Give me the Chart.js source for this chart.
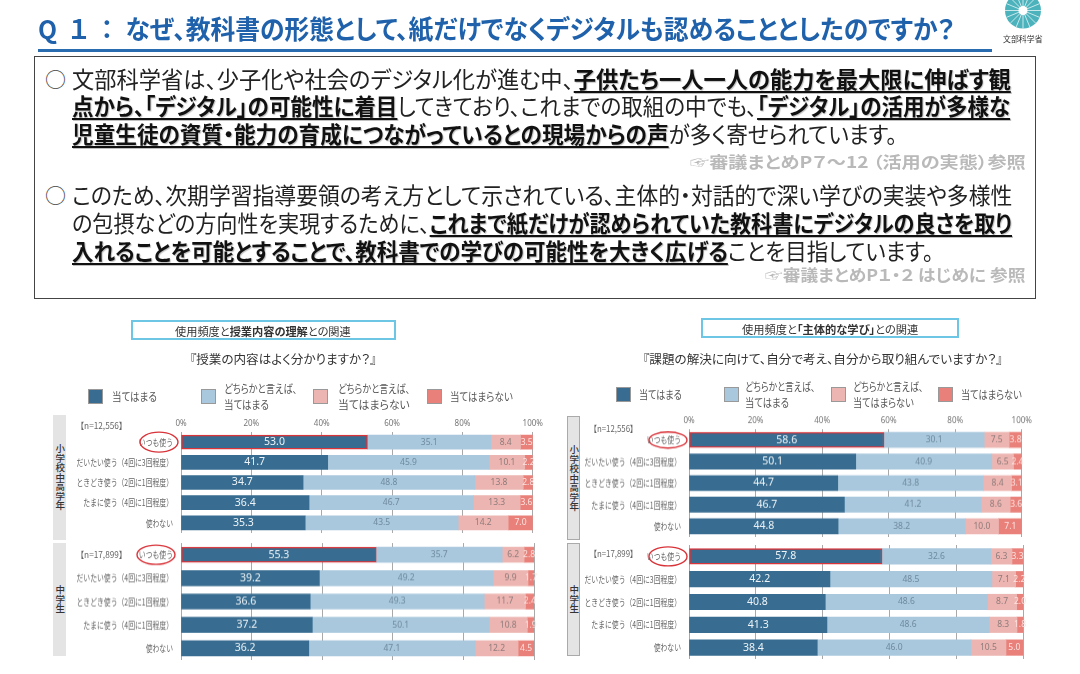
<!DOCTYPE html>
<html lang="ja">
<head>
<meta charset="utf-8">
<script src="https://cdn.jsdelivr.net/npm/chart.js@4"></script>
<style>
  html, body { margin: 0; padding: 0; background: #fff; }
  body { width: 1080px; height: 674px; position: relative; overflow: hidden; font-family: "Noto Sans CJK JP", "Noto Sans", sans-serif; color: #222; }
  .t { position: absolute; white-space: nowrap; transform-origin: left center; line-height: 1; font-feature-settings: "palt"; }
  .t b { font-weight: 700; }
  .u { text-decoration: underline; text-decoration-thickness: 2px; text-underline-offset: 3px; font-weight: 700; color: #111; text-shadow: 1px 1px 1px rgba(0,0,0,.25); }
  .box { position: absolute; box-sizing: border-box; }
  .sw { position: absolute; width: 15px; height: 15px; box-sizing: border-box; border: 1px solid #999; }
  .side { position: absolute; background: #e4e4e4; box-sizing: border-box; writing-mode: vertical-rl; font-size: 9.5px; font-weight: 500; color: #333; display: flex; align-items: center; justify-content: center; line-height: 1; }
  canvas { position: absolute; }
</style>
</head>
<body>
<script>
// usage rows shared by all four panels
const usageLabels = ['いつも使う', 'だいたい使う（4回に3回程度）', 'ときどき使う（2回に1回程度）', 'たまに使う（4回に1回程度）', '使わない'];
const seriesNames = ['当てはまる', 'どちらかと言えば、当てはまる', 'どちらかと言えば、当てはまらない', '当てはまらない'];
const seriesColors = ['#386d91', '#a9c8dd', '#edb5b1', '#e9817a'];
const labelColors = ['#eef4f8', '#6f8a9e', '#8d7b7b', '#fbe3e0'];
const percentTicks = ['0%', '20%', '40%', '60%', '80%', '100%'];

// 授業内容の理解 小学校中高学年
const lessonElemYes = [53.0, 41.7, 34.7, 36.4, 35.3];
const lessonElemRatherYes = [35.1, 45.9, 48.8, 46.7, 43.5];
const lessonElemRatherNo = [8.4, 10.1, 13.8, 13.3, 14.2];
const lessonElemNo = [3.5, 2.2, 2.8, 3.6, 7.0];
// 授業内容の理解 中学生
const lessonJuniorYes = [55.3, 39.2, 36.6, 37.2, 36.2];
const lessonJuniorRatherYes = [35.7, 49.2, 49.3, 50.1, 47.1];
const lessonJuniorRatherNo = [6.2, 9.9, 11.7, 10.8, 12.2];
const lessonJuniorNo = [2.8, 1.7, 2.4, 1.9, 4.5];
// 主体的な学び 小学校中高学年
const activeElemYes = [58.6, 50.1, 44.7, 46.7, 44.8];
const activeElemRatherYes = [30.1, 40.9, 43.8, 41.2, 38.2];
const activeElemRatherNo = [7.5, 6.5, 8.4, 8.6, 10.0];
const activeElemNo = [3.8, 2.4, 3.1, 3.6, 7.1];
// 主体的な学び 中学生
const activeJuniorYes = [57.8, 42.2, 40.8, 41.3, 38.4];
const activeJuniorRatherYes = [32.6, 48.5, 48.6, 48.6, 46.0];
const activeJuniorRatherNo = [6.3, 7.1, 8.7, 8.3, 10.5];
const activeJuniorNo = [3.3, 2.2, 2.0, 1.8, 5.0];

function text(html, x, y, size, opts) {
  opts = opts || {};
  const el = document.createElement('div');
  el.className = 't';
  el.innerHTML = html;
  el.style.left = x + 'px';
  el.style.top = (y - size / 2) + 'px';
  el.style.fontSize = size + 'px';
  if (opts.color) el.style.color = opts.color;
  if (opts.bold) el.style.fontWeight = 700;
  document.body.appendChild(el);
  // squeeze the line to the width it has in the slide
  if (opts.w) el.style.transform = 'scaleX(' + (opts.w / el.offsetWidth) + ')';
  return el;
}

function box(x, y, w, h, css) {
  const el = document.createElement('div');
  el.className = 'box';
  el.style.cssText = 'left:' + x + 'px;top:' + y + 'px;width:' + w + 'px;height:' + h + 'px;' + css;
  document.body.appendChild(el);
  return el;
}

// header
text('<span style="letter-spacing:13px">Q１：</span>なぜ、教科書の形態として、紙だけでなくデジタルも認めることとしたのですか？', 38, 28, 26, { color: '#1f62ab', bold: true, w: 917 });
box(38, 49, 954, 3, 'background:#2a6cb0;');
const logo = document.createElementNS('http://www.w3.org/2000/svg', 'svg');
logo.setAttribute('width', 50); logo.setAttribute('height', 34);
logo.style.cssText = 'position:absolute;left:1000px;top:0;';
let logoInner = '<circle cx="23" cy="10.5" r="18" fill="#4cb3bd"/>';
for (let a = 0; a < 16; a++) {
  const r = a * Math.PI / 8;
  logoInner += '<line x1="23" y1="10.5" x2="' + (23 + 18 * Math.cos(r)) + '" y2="' + (10.5 + 18 * Math.sin(r)) + '" stroke="#fff" stroke-width="0.7"/>';
}
logoInner += '<circle cx="23" cy="10.5" r="4.5" fill="#fff"/>';
logo.innerHTML = logoInner;
document.body.appendChild(logo);
text('文部科学省', 1003, 38, 8.5, { color: '#333', w: 40 });

// text box
box(34, 56, 1002, 243, 'border:1.5px solid #444;');
text('○', 45, 78, 21, { color: '#444' });
text('文部科学省は、少子化や社会のデジタル化が進む中、<span class="u">子供たち一人一人の能力を最大限に伸ばす観</span>', 72, 78, 22.5, { w: 939 });
text('<span class="u">点から、「デジタル」の可能性に着目</span>してきており、これまでの取組の中でも、<span class="u">「デジタル」の活用が多様な</span>', 72, 105, 22.5, { w: 938 });
text('<span class="u">児童生徒の資質・能力の育成につながっているとの現場からの声</span>が多く寄せられています。', 72, 133, 22.5, { w: 825 });
text('☞審議まとめP７～12 （活用の実態）参照', 690, 161, 16, { color: '#b9b9b9', bold: true, w: 336 });
text('○', 45, 194, 21, { color: '#444' });
text('このため、次期学習指導要領の考え方として示されている、主体的・対話的で深い学びの実装や多様性', 72, 194, 22.5, { w: 940 });
text('の包摂などの方向性を実現するために、<span class="u">これまで紙だけが認められていた教科書にデジタルの良さを取り</span>', 72, 222, 22.5, { w: 940 });
text('<span class="u">入れることを可能とすることで、教科書での学びの可能性を大きく広げる</span>ことを目指しています。', 72, 250, 22.5, { w: 862 });
text('☞審議まとめP１・２ はじめに 参照', 765, 274, 16, { color: '#b9b9b9', bold: true, w: 261 });

// chart headings
box(131, 320, 265, 20, 'border:2px solid #6cc6e4;');
text('使用頻度と<b>授業内容の理解</b>との関連', 175, 331, 11, { color: '#333', w: 176 });
text('『授業の内容はよく分かりますか？』', 190, 359, 12.5, { color: '#333', w: 186 });
box(701, 318, 258, 20, 'border:2px solid #6cc6e4;');
text('使用頻度と<b>「主体的な学び」</b>との関連', 742, 329, 11, { color: '#333', w: 176 });
text('『課題の解決に向けて、自分で考え、自分から取り組んでいますか？』', 643, 359, 12.5, { color: '#333', w: 360 });

// legends: swatch x, text x, then text lines with their widths
function legend(items, y, gap) {
  items.forEach(function (it, i) {
    const sw = document.createElement('div');
    sw.className = 'sw';
    sw.style.left = it[0] + 'px';
    sw.style.top = (y - 7) + 'px';
    sw.style.background = seriesColors[i];
    document.body.appendChild(sw);
    const lines = it[2];
    lines.forEach(function (ln, k) {
      const dy = lines.length === 1 ? 0 : (k === 0 ? -gap : gap);
      text(ln[0], it[1], y + dy, 11, { color: '#555', w: ln[1] });
    });
  });
}
legend([[88, 112, [['当てはまる', 45]]],
  [201, 224, [['どちらかと言えば、', 73], ['当てはまる', 45]]],
  [313, 338, [['どちらかと言えば、', 72], ['当てはまらない', 72]]],
  [427, 450, [['当てはまらない', 63]]]], 396, 8);
legend([[616, 639, [['当てはまる', 43]]],
  [724, 745, [['どちらかと言えば、', 70], ['当てはまる', 44]]],
  [831, 853, [['どちらかと言えば、', 70], ['当てはまらない', 61]]],
  [938, 961, [['当てはまらない', 61]]]], 394, 8);

// group strips
function side(label, x, y, w, h, css) {
  const el = document.createElement('div');
  el.className = 'side';
  el.textContent = label;
  el.style.cssText = 'left:' + x + 'px;top:' + y + 'px;width:' + w + 'px;height:' + h + 'px;' + (css || '');
  document.body.appendChild(el);
}
side('小学校中高学年', 53, 415, 13, 125);
side('中学生', 53, 543, 13, 113);
side('小学校中高学年', 567, 416, 13, 124, 'border:1px solid #aaa;');
side('中学生', 567, 543, 13, 113, 'border:1px solid #aaa;');

text('【n=12,556】', 80, 425, 9, { color: '#666', w: 43 });
text('【n=17,899】', 80, 554, 9, { color: '#666', w: 43 });
text('【n=12,556】', 593, 428, 9, { color: '#666', w: 41 });
text('【n=17,899】', 593, 553, 9, { color: '#666', w: 41 });

// row names (squeezed like the slide), value labels and the red ring round いつも使う
const panelDecor = {
  id: 'panelDecor',
  afterDatasetsDraw(chart) {
    const ctx = chart.ctx;
    const opt = chart.options.plugins.panelDecor;
    const yScale = chart.scales.y;
    ctx.save();
    ctx.textBaseline = 'middle';
    ctx.textAlign = 'right';
    ctx.fillStyle = '#666';
    ctx.font = '9.5px "Noto Sans CJK JP", sans-serif';
    usageLabels.forEach(function (name, i) {
      ctx.save();
      ctx.translate(yScale.right - 8, yScale.getPixelForValue(i));
      ctx.scale(0.72, 1);
      ctx.fillText(yScale.getLabelForValue(i), 0, 0);
      ctx.restore();
    });
    ctx.textAlign = 'center';
    chart.data.datasets.forEach(function (ds, d) {
      chart.getDatasetMeta(d).data.forEach(function (bar, i) {
        ctx.fillStyle = labelColors[d];
        ctx.font = (d === 0 ? '10.5px' : '8.5px') + ' "Noto Sans", sans-serif';
        ctx.fillText(ds.data[i].toFixed(1), (bar.x + bar.base) / 2, bar.y);
      });
    });
    ctx.strokeStyle = '#d8343a';
    ctx.lineWidth = 1.4;
    ctx.beginPath();
    ctx.ellipse(chart.scales.x.left - opt.ringGap, yScale.getPixelForValue(0), 19, opt.ringH, 0, 0, Math.PI * 2);
    ctx.stroke();
    ctx.restore();
  }
};

function panel(cfg) {
  const canvas = document.createElement('canvas');
  const topSpace = cfg.axis ? 22 : 2;
  const left = cfg.left - 130;
  const top = cfg.top - topSpace;
  const w = cfg.right - left + 12;
  const h = cfg.bottom - top + 2;
  canvas.style.cssText = 'left:' + left + 'px;top:' + top + 'px;width:' + w + 'px;height:' + h + 'px;';
  canvas.width = w; canvas.height = h;
  document.body.appendChild(canvas);
  new Chart(canvas.getContext('2d'), {
    type: 'bar',
    data: {
      labels: usageLabels,
      datasets: cfg.values.map(function (vals, i) {
        return {
          label: seriesNames[i],
          data: vals,
          backgroundColor: seriesColors[i],
          borderColor: i === 0 ? ['#d8343a', 'transparent', 'transparent', 'transparent', 'transparent'] : 'transparent',
          borderWidth: i === 0 ? [1.5, 0, 0, 0, 0] : 0,
          borderSkipped: false,
          barThickness: cfg.thick
        };
      })
    },
    plugins: [panelDecor],
    options: {
      indexAxis: 'y',
      responsive: false,
      animation: false,
      layout: { padding: { top: 0, left: 0, right: 12, bottom: 2 } },
      plugins: {
        legend: { display: false },
        tooltip: { enabled: false },
        panelDecor: { ringGap: cfg.ringGap, ringH: cfg.ringH }
      },
      scales: {
        x: {
          position: 'top',
          stacked: true,
          min: 0,
          max: 100,
          afterBuildTicks(axis) { axis.ticks = percentTicks.map(function (t) { return { value: parseInt(t, 10) }; }); },
          afterFit(axis) { axis.height = topSpace; },
          border: { display: false },
          grid: { color: '#a9a9a9', lineWidth: 1, drawTicks: false },
          ticks: {
            display: cfg.axis,
            padding: 3,
            maxRotation: 0,
            color: '#777',
            font: { size: 8, family: '"Noto Sans", sans-serif' },
            callback(v) { return v + '%'; }
          }
        },
        y: {
          stacked: true,
          afterFit(axis) { axis.width = 130; },
          border: { display: false },
          grid: { display: false },
          ticks: { display: false }
        }
      }
    }
  });
}

panel({ left: 181, right: 534, top: 431.6, bottom: 532.9, thick: 14, axis: true, ringGap: 22, ringH: 10,
  values: [lessonElemYes, lessonElemRatherYes, lessonElemRatherNo, lessonElemNo] });
panel({ left: 181, right: 534, top: 543.3, bottom: 659.8, thick: 15, axis: false, ringGap: 25, ringH: 9.5,
  values: [lessonJuniorYes, lessonJuniorRatherYes, lessonJuniorRatherNo, lessonJuniorNo] });
panel({ left: 689, right: 1023, top: 429.3, bottom: 536.8, thick: 15, axis: true, ringGap: 21, ringH: 8,
  values: [activeElemYes, activeElemRatherYes, activeElemRatherNo, activeElemNo] });
panel({ left: 689, right: 1023, top: 544.6, bottom: 658.7, thick: 15.5, axis: false, ringGap: 21, ringH: 9.5,
  values: [activeJuniorYes, activeJuniorRatherYes, activeJuniorRatherNo, activeJuniorNo] });
</script>
</body>
</html>
